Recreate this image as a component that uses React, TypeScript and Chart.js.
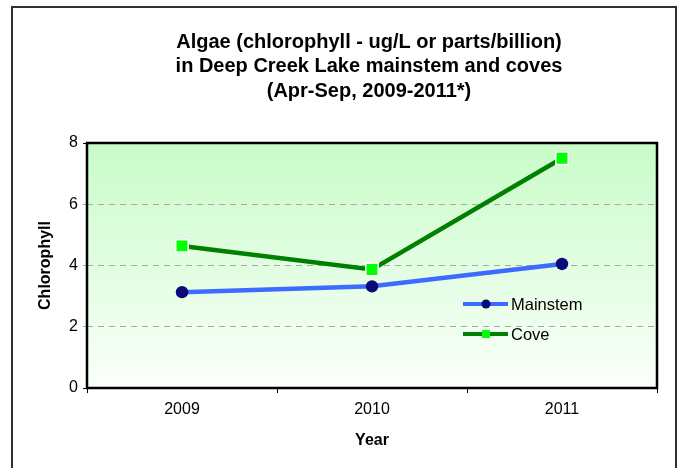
import React, { useEffect, useRef } from "react";
import { Chart, registerables } from "chart.js";

Chart.register(...registerables);

const years = ["2009", "2010", "2011"];
const mainstem = [3.13, 3.32, 4.05];
const cove = [4.64, 3.87, 7.5];
const yTicks = [0, 2, 4, 6, 8];
const titleLines = [
  "Algae (chlorophyll - ug/L or parts/billion)",
  "in Deep Creek Lake mainstem and coves",
  "(Apr-Sep, 2009-2011*)",
];
const xTitle = "Year";
const yTitle = "Chlorophyll";

const FONT = "'Liberation Sans', Arial, sans-serif";

const decorPlugin = {
  id: "decor",
  beforeDraw(chart: any) {
    const { ctx, chartArea: a } = chart;
    ctx.save();
    const g = ctx.createLinearGradient(0, a.top, 0, a.bottom);
    g.addColorStop(0, "#c8fcc8");
    g.addColorStop(1, "#fbfffb");
    ctx.fillStyle = g;
    ctx.fillRect(a.left, a.top, a.right - a.left, a.bottom - a.top);
    // outer frame
    ctx.strokeStyle = "#303030";
    ctx.lineWidth = 2;
    ctx.beginPath();
    ctx.moveTo(12, 520);
    ctx.lineTo(12, 7);
    ctx.lineTo(676, 7);
    ctx.lineTo(676, 520);
    ctx.stroke();
    // titles
    ctx.fillStyle = "#000";
    ctx.textAlign = "center";
    ctx.textBaseline = "middle";
    ctx.font = `bold 20px ${FONT}`;
    titleLines.forEach((t, i) => ctx.fillText(t, 369, 42 + i * 24.5));
    ctx.font = `bold 16px ${FONT}`;
    ctx.fillText(xTitle, (a.left + a.right) / 2, 441);
    ctx.translate(46, (a.top + a.bottom) / 2);
    ctx.rotate(-Math.PI / 2);
    ctx.fillText(yTitle, 0, 0);
    ctx.restore();
  },
  beforeDatasetsDraw(chart: any) {
    const { ctx, chartArea: a } = chart;
    ctx.save();
    ctx.strokeStyle = "#000";
    ctx.lineWidth = 2.5;
    ctx.strokeRect(a.left, a.top, a.right - a.left, a.bottom - a.top);
    ctx.restore();
  },
  afterDraw(chart: any) {
    const { ctx } = chart;
    ctx.save();
    chart.data.datasets.forEach((ds: any, i: number) => {
      const y = 304 + i * 30;
      ctx.strokeStyle = ds.borderColor;
      ctx.lineWidth = 4;
      ctx.beginPath();
      ctx.moveTo(463, y);
      ctx.lineTo(508, y);
      ctx.stroke();
      ctx.fillStyle = ds.pointBackgroundColor;
      if (ds.pointStyle === "rect") {
        ctx.fillRect(482, y - 4, 8, 8);
      } else {
        ctx.beginPath();
        ctx.arc(486, y, 4.5, 0, Math.PI * 2);
        ctx.fill();
      }
      ctx.fillStyle = "#000";
      ctx.font = `16.5px ${FONT}`;
      ctx.textAlign = "left";
      ctx.textBaseline = "middle";
      ctx.fillText(ds.label, 511, y + 1);
    });
    ctx.restore();
  },
};

export default function App() {
  const ref = useRef<HTMLCanvasElement>(null);
  useEffect(() => {
    const chart = new Chart(ref.current!, {
      type: "line",
      data: {
        labels: years,
        datasets: [
          {
            label: "Mainstem",
            data: mainstem,
            borderColor: "#3d6bff",
            borderWidth: 4.5,
            pointStyle: "circle",
            pointRadius: 6.2,
            pointBackgroundColor: "#0a0a78",
            pointBorderColor: "#0a0a78",
            pointBorderWidth: 0,
            tension: 0,
          },
          {
            label: "Cove",
            data: cove,
            borderColor: "#008000",
            borderWidth: 4.5,
            pointStyle: "rect",
            pointRadius: 8.8,
            pointBackgroundColor: "#00ff00",
            pointBorderColor: "#ffffff",
            pointBorderWidth: 1.5,
            tension: 0,
          },
        ],
      },
      options: {
        animation: false,
        responsive: false,
        layout: { padding: { top: 143, left: 0, right: 21, bottom: 0 } },
        plugins: {
          legend: { display: false },
          title: { display: false },
          tooltip: { enabled: false },
        },
        scales: {
          x: {
            offset: true,
            grid: {
              offset: true,
              drawOnChartArea: false,
              drawTicks: true,
              tickLength: 5,
              tickColor: "#000",
              tickWidth: 1,
            },
            border: { display: false },
            ticks: {
              color: "#000",
              padding: 7,
              font: { family: FONT, size: 16 },
            },
            afterFit(scale: any) {
              scale.height = 80;
            },
          },
          y: {
            min: 0,
            max: 8,
            afterBuildTicks(scale: any) {
              scale.ticks = yTicks.map((v) => ({ value: v }));
            },
            grid: {
              color: (c: any) =>
                c.tick && (c.tick.value === 0 || c.tick.value === 8)
                  ? "rgba(0,0,0,0)"
                  : "#a8a8a8",
              tickColor: (c: any) =>
                c.tick && (c.tick.value === 0 || c.tick.value === 8)
                  ? "#000"
                  : "#a8a8a8",
              lineWidth: 1,
              tickLength: 4,
            } as any,
            border: { display: false, dash: [6, 5] },
            ticks: {
              color: "#000",
              padding: 5,
              font: { family: FONT, size: 16 },
            },
            afterFit(scale: any) {
              scale.width = 87;
            },
          },
        },
      } as any,
      plugins: [decorPlugin],
    });
    return () => chart.destroy();
  }, []);
  return (
    <div style={{ position: "fixed", left: 0, top: 0, width: 678, height: 468, background: "#fff" }}>
      <canvas ref={ref} width={678} height={468} style={{ width: 678, height: 468 }} />
    </div>
  );
}
